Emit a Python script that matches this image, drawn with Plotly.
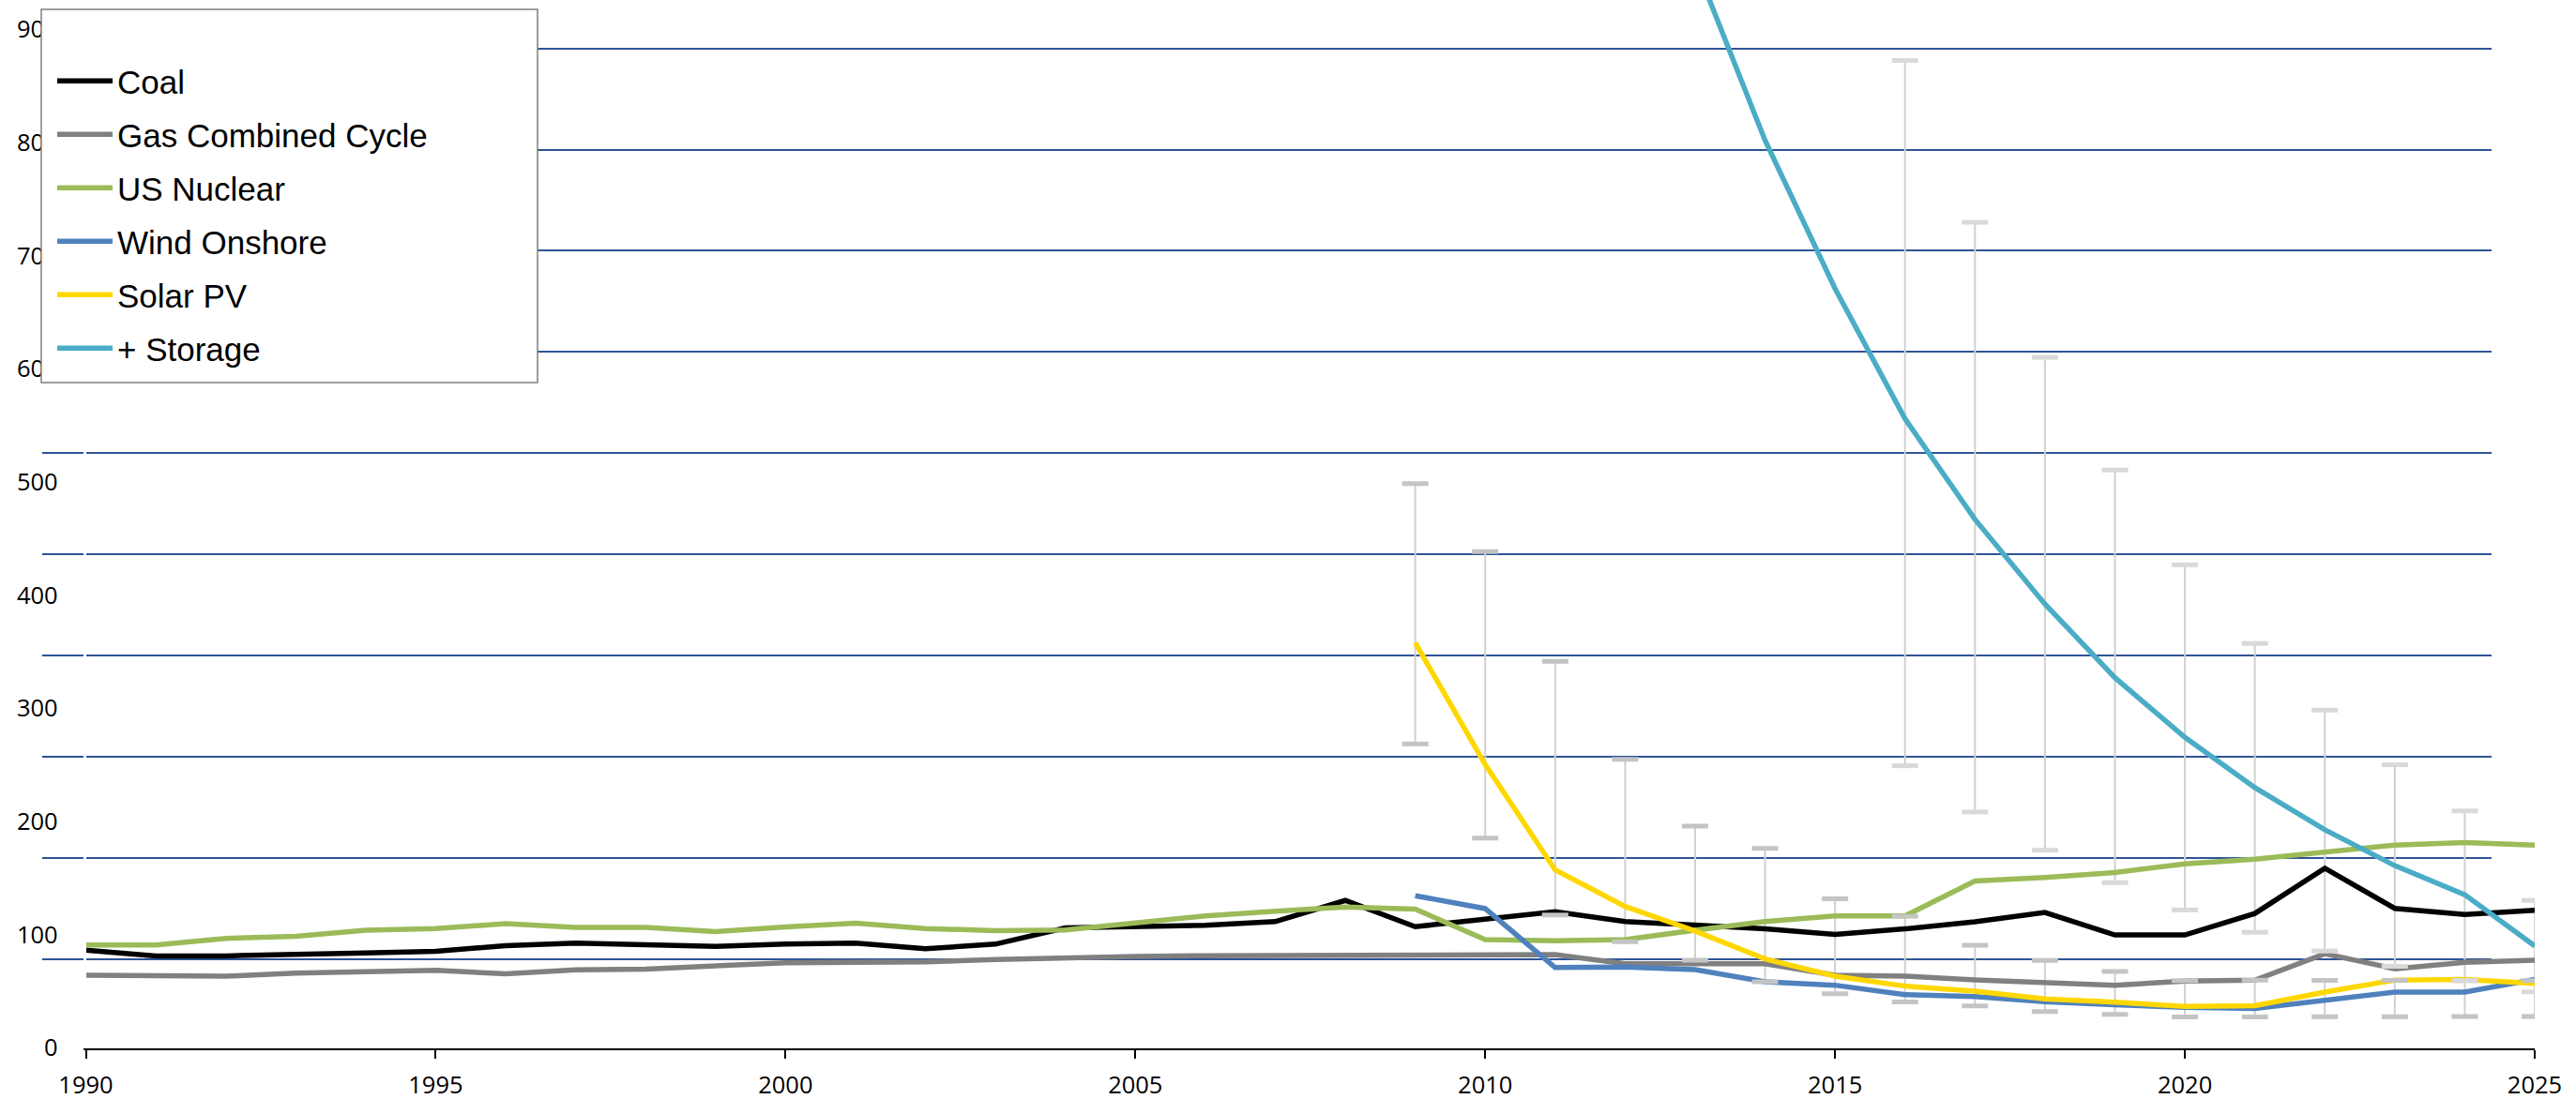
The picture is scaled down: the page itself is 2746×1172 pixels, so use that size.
import plotly.graph_objects as go

# ---------------- data ----------------
years = list(range(1990, 2026))
coal = [86.3, 81.3, 81.3, 82.1, 84.0, 85.4, 90.4, 92.6, 90.9, 89.7,
        91.7, 92.6, 87.6, 91.7, 106.1, 106.9, 108.3, 111.6, 130.3, 107.1,
        113.6, 120.4, 111.7, 109.0, 105.2, 100.3, 105.2, 111.4, 119.7, 99.8,
        99.8, 118.8, 158.7, 123.3, 117.9, 121.5]
gas = [64.2, 64.2, 63.3, 66.1, 67.5, 68.5, 65.5, 68.9, 69.7, 72.0,
       75.2, 75.7, 76.0, 78.0, 79.9, 80.7, 81.5, 81.5, 82.0, 82.4,
       81.5, 82.4, 74.4, 74.4, 74.4, 64.2, 63.4, 60.0, 57.8, 55.4,
       59.0, 59.9, 83.2, 69.9, 75.6, 77.5]
nuclear = [90.9, 90.9, 96.7, 98.7, 103.9, 105.5, 109.7, 106.4, 106.4, 102.8,
           106.9, 110.2, 105.5, 103.6, 104.2, 110.2, 116.6, 120.7, 124.5, 122.7,
           95.7, 94.6, 95.7, 104.0, 111.7, 116.6, 116.6, 147.5, 150.6, 155.0,
           162.6, 166.8, 173.2, 179.2, 181.4, 179.2]

wind_years = list(range(2009, 2026))
wind = [134.5, 123.1, 71.0, 71.4, 69.1, 58.4, 55.4, 47.1, 45.4, 40.9,
        38.2, 35.8, 34.9, 42.4, 49.3, 49.3, 60.5]

solar_years = list(range(2009, 2026))
solar = [358.0, 250.4, 157.3, 125.0, 103.3, 78.6, 63.4, 54.6, 50.2, 43.3,
         40.3, 36.7, 37.3, 49.3, 59.9, 60.5, 57.0]
solar_low = [268.6, 185.4, 117.4, 93.8, 77.5, 58.4, 47.8, 40.6, 37.0, 32.1,
             29.7, 27.3, 27.3, 27.5, 27.5, 27.7, 27.7]
solar_high = [498.6, 438.6, 341.6, 255.0, 196.0, 176.3, 131.8, 116.3, 90.7, 77.2,
              67.5, 59.4, 59.9, 59.7, 59.7, 59.5, 59.5]

storage_years = list(range(2013, 2026))
storage = [958.0, 802.0, 671.0, 556.0, 467.0, 392.2, 327.2, 274.4, 230.0, 192.8,
           161.1, 135.4, 90.1]
storage_bar_years = list(range(2016, 2026))
storage_low = [249.3, 208.5, 174.7, 146.0, 121.9, 102.2, 85.6, 72.0, 59.5, 49.5]
storage_high = [872.6, 729.6, 610.2, 510.7, 426.9, 357.4, 298.5, 250.2, 209.4, 130.4]

x_ticks = [1990, 1995, 2000, 2005, 2010, 2015, 2020, 2025]
y_ticks = [0, 100, 200, 300, 400, 500, 600, 700, 800, 900]

series = [
    ("Coal", years, coal, "#000000"),
    ("Gas Combined Cycle", years, gas, "#808080"),
    ("US Nuclear", years, nuclear, "#9BBB59"),
    ("Wind Onshore", wind_years, wind, "#4F81BD"),
    ("Solar PV", solar_years, solar, "#FFD700"),
    ("+ Storage", storage_years, storage, "#4BACC6"),
]

# ---------------- geometry ----------------
W, H = 2746, 1172
def px_x(p):
    return p / W
def px_y(p):
    return 1 - p / H

data_xdom = [px_x(91.5), px_x(2702)]
grid_xdom = [px_x(45), px_x(2656)]
ydom = [px_y(1117.5), 1.0]

fig = go.Figure()

# invisible trace to create the grid-only subplot (x, y)
fig.add_trace(go.Scatter(x=[], y=[], xaxis="x", yaxis="y", showlegend=False,
                         hoverinfo="skip"))

# error-bar stems (under lines)
def stems(xs, lo, hi):
    sx, sy = [], []
    for x, a, b in zip(xs, lo, hi):
        sx += [x, x, None]
        sy += [a, b, None]
    return sx, sy

sx1, sy1 = stems(solar_years, solar_low, solar_high)
sx2, sy2 = stems(storage_bar_years, storage_low, storage_high)
fig.add_trace(go.Scatter(x=sx1 + sx2, y=sy1 + sy2, mode="lines",
                         line=dict(color="#D0D0D0", width=2),
                         xaxis="x2", yaxis="y2", showlegend=False, hoverinfo="skip"))

# main lines
for i, (name, xs, ys, col) in enumerate(series):
    fig.add_trace(go.Scatter(x=xs, y=ys, name=name, mode="lines",
                             line=dict(color=col, width=5.5),
                             legendgroup="g%d" % i,
                             xaxis="x2", yaxis="y2"))

# error-bar caps (above lines)
fig.add_trace(go.Scatter(x=solar_years + solar_years, y=solar_low + solar_high,
                         mode="markers",
                         marker=dict(symbol="line-ew", size=20,
                                     line=dict(color="#C4C4C4", width=5)),
                         xaxis="x2", yaxis="y2", showlegend=False, hoverinfo="skip"))
fig.add_trace(go.Scatter(x=storage_bar_years + storage_bar_years,
                         y=storage_low + storage_high, mode="markers",
                         marker=dict(symbol="line-ew", size=20,
                                     line=dict(color="#D9D9D9", width=5)),
                         xaxis="x2", yaxis="y2", showlegend=False, hoverinfo="skip"))

tickfont = dict(family="Open Sans", size=25.5, color="#000000")

fig.update_layout(
    width=W, height=H,
    margin=dict(l=0, r=0, t=0, b=0, pad=0, autoexpand=False),
    paper_bgcolor="white",
    plot_bgcolor="rgba(0,0,0,0)",
    showlegend=True,
    xaxis=dict(domain=grid_xdom, anchor="y", range=[0, 1], visible=False,
               showgrid=False, zeroline=False, automargin=False),
    yaxis=dict(domain=ydom, anchor="x", range=[0.1213, 10.479], dtick=1, tick0=0,
               showgrid=True, gridcolor="#2F5496", gridwidth=2.3,
               showticklabels=False, ticks="", zeroline=False, showline=False,
               automargin=False),
    xaxis2=dict(domain=data_xdom, anchor="y2", range=[1990, 2025],
                tickmode="array", tickvals=x_ticks, ticktext=[str(v) for v in x_ticks],
                ticks="outside", ticklen=9, tickwidth=2, tickcolor="#000000",
                showline=True, linecolor="#000000", linewidth=2,
                showgrid=False, zeroline=False, tickfont=tickfont,
                ticklabelstandoff=7, automargin=False),
    yaxis2=dict(domain=ydom, anchor="x2", range=[0, 926],
                tickmode="array", tickvals=y_ticks, ticktext=[str(v) for v in y_ticks],
                ticks="", ticklen=0, showgrid=False, zeroline=False,
                showline=True, linecolor="#FFFFFF", linewidth=2.5,
                ticklabelstandoff=22, tickfont=tickfont, automargin=False),
    legend=dict(x=px_x(56), y=px_y(57), xanchor="left", yanchor="top",
                bgcolor="rgba(0,0,0,0)", borderwidth=0,
                traceorder="grouped", tracegroupgap=8.5, itemwidth=59,
                font=dict(family="Liberation Sans", size=35, color="#000000")),
    shapes=[dict(type="rect", xref="paper", yref="paper",
                 x0=px_x(44), x1=px_x(573), y0=px_y(408), y1=px_y(10),
                 fillcolor="white", line=dict(color="#7F7F7F", width=1.5),
                 layer="above")],
)

fig.write_html(
    "out.html",
    config={"displayModeBar": False},
    post_script="document.body.style.margin='0';document.body.style.overflow='hidden';",
)
